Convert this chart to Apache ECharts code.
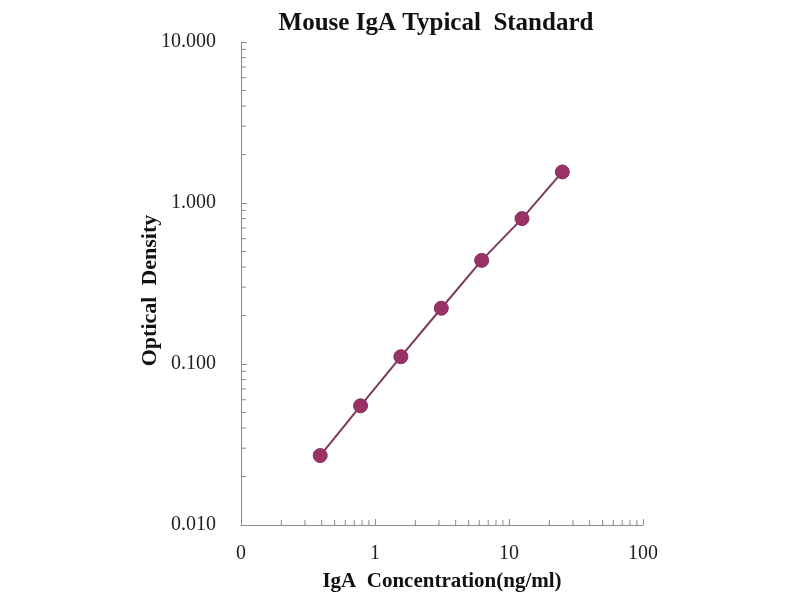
<!DOCTYPE html>
<html>
<head>
<meta charset="utf-8">
<title>Mouse IgA Typical Standard</title>
<script src="https://cdn.jsdelivr.net/npm/echarts@6/dist/echarts.min.js"></script>
<style>
  html, body { margin: 0; padding: 0; background: #fff; }
  #chart { width: 800px; height: 600px; }
</style>
</head>
<body>
<div id="chart"></div>
<script>
// standard curve points
const concentration = [0.39, 0.78, 1.56, 3.125, 6.25, 12.5, 25];
const opticalDensity = [0.027, 0.055, 0.111, 0.222, 0.44, 0.80, 1.56];

// tick labels, one per decade
const xTickLabels = ["0", "1", "10", "100"];
const yTickLabels = ["0.010", "0.100", "1.000", "10.000"];

// minor tick multipliers inside each decade
const minorSteps = [2, 3, 4, 5, 6, 7, 8, 9];
const xDecades = [0.1, 1, 10];
const yDecades = [0.01, 0.1, 1];

const serif = "'Liberation Serif', 'DejaVu Serif', serif";
const axisColor = "#8c8c8c";

const xMinor = [];
xDecades.forEach(d => minorSteps.forEach(s => xMinor.push([d * s, 0.01])));
const yMinor = [];
yDecades.forEach(d => minorSteps.forEach(s => yMinor.push([0.1, d * s])));

const chart = echarts.init(document.getElementById("chart"));

// draws a short tick from the axis point, dx/dy is the direction
const tickRenderer = (dx, dy) => (params, api) => {
  const p = api.coord([api.value(0), api.value(1)]);
  return {
    type: "line",
    shape: { x1: p[0], y1: p[1], x2: p[0] + dx, y2: p[1] + dy },
    style: { stroke: axisColor, lineWidth: 1 },
    silent: true,
  };
};

chart.setOption({
  backgroundColor: "#fff",
  animation: false,
  title: {
    text: "Mouse IgA Typical  Standard",
    left: 431,
    top: 6,
    textAlign: "center",
    textStyle: { fontFamily: serif, fontWeight: "bold", fontSize: 25, color: "#111" },
  },
  grid: { left: 241, right: 157, top: 42, bottom: 75 },
  xAxis: {
    type: "log",
    logBase: 10,
    min: 0.1,
    max: 100,
    splitNumber: 3,
    name: "IgA  Concentration(ng/ml)",
    nameLocation: "middle",
    nameGap: 46,
    nameMoveOverlap: false,
    nameTextStyle: { fontFamily: serif, fontWeight: "bold", fontSize: 21, color: "#111" },
    axisLine: { show: true, lineStyle: { color: axisColor, width: 1 } },
    axisTick: { show: true, inside: true, length: 6, lineStyle: { color: axisColor } },
    splitLine: { show: false },
    axisLabel: {
      margin: 19,
      fontFamily: serif,
      fontSize: 20,
      color: "#222",
      formatter: v => xTickLabels[Math.round(Math.log10(v)) + 1],
    },
  },
  yAxis: {
    type: "log",
    logBase: 10,
    min: 0.01,
    max: 10,
    splitNumber: 3,
    name: "Optical  Density",
    nameLocation: "middle",
    nameGap: 80,
    nameMoveOverlap: false,
    nameTextStyle: {
      fontFamily: serif, fontWeight: "bold", fontSize: 22, color: "#111",
      padding: [0, 14, 0, 0],
    },
    axisLine: { show: true, lineStyle: { color: axisColor, width: 1 } },
    axisTick: { show: true, inside: true, length: 6, lineStyle: { color: axisColor } },
    splitLine: { show: false },
    axisLabel: {
      margin: 25,
      fontFamily: serif,
      fontSize: 20,
      color: "#222",
      formatter: v => yTickLabels[Math.round(Math.log10(v)) + 2],
    },
  },
  series: [
    {
      name: "Standard",
      type: "line",
      data: concentration.map((c, i) => [c, opticalDensity[i]]),
      symbol: "circle",
      symbolSize: 14,
      lineStyle: { color: "#7d3a5e", width: 2 },
      itemStyle: { color: "#993366", borderColor: "#8a2d5c", borderWidth: 1 },
      z: 5,
    },
    {
      name: "xMinor",
      type: "custom",
      data: xMinor,
      renderItem: tickRenderer(0, -5),
      z: 1,
    },
    {
      name: "yMinor",
      type: "custom",
      data: yMinor,
      renderItem: tickRenderer(5, 0),
      z: 1,
    },
  ],
});
</script>
</body>
</html>
